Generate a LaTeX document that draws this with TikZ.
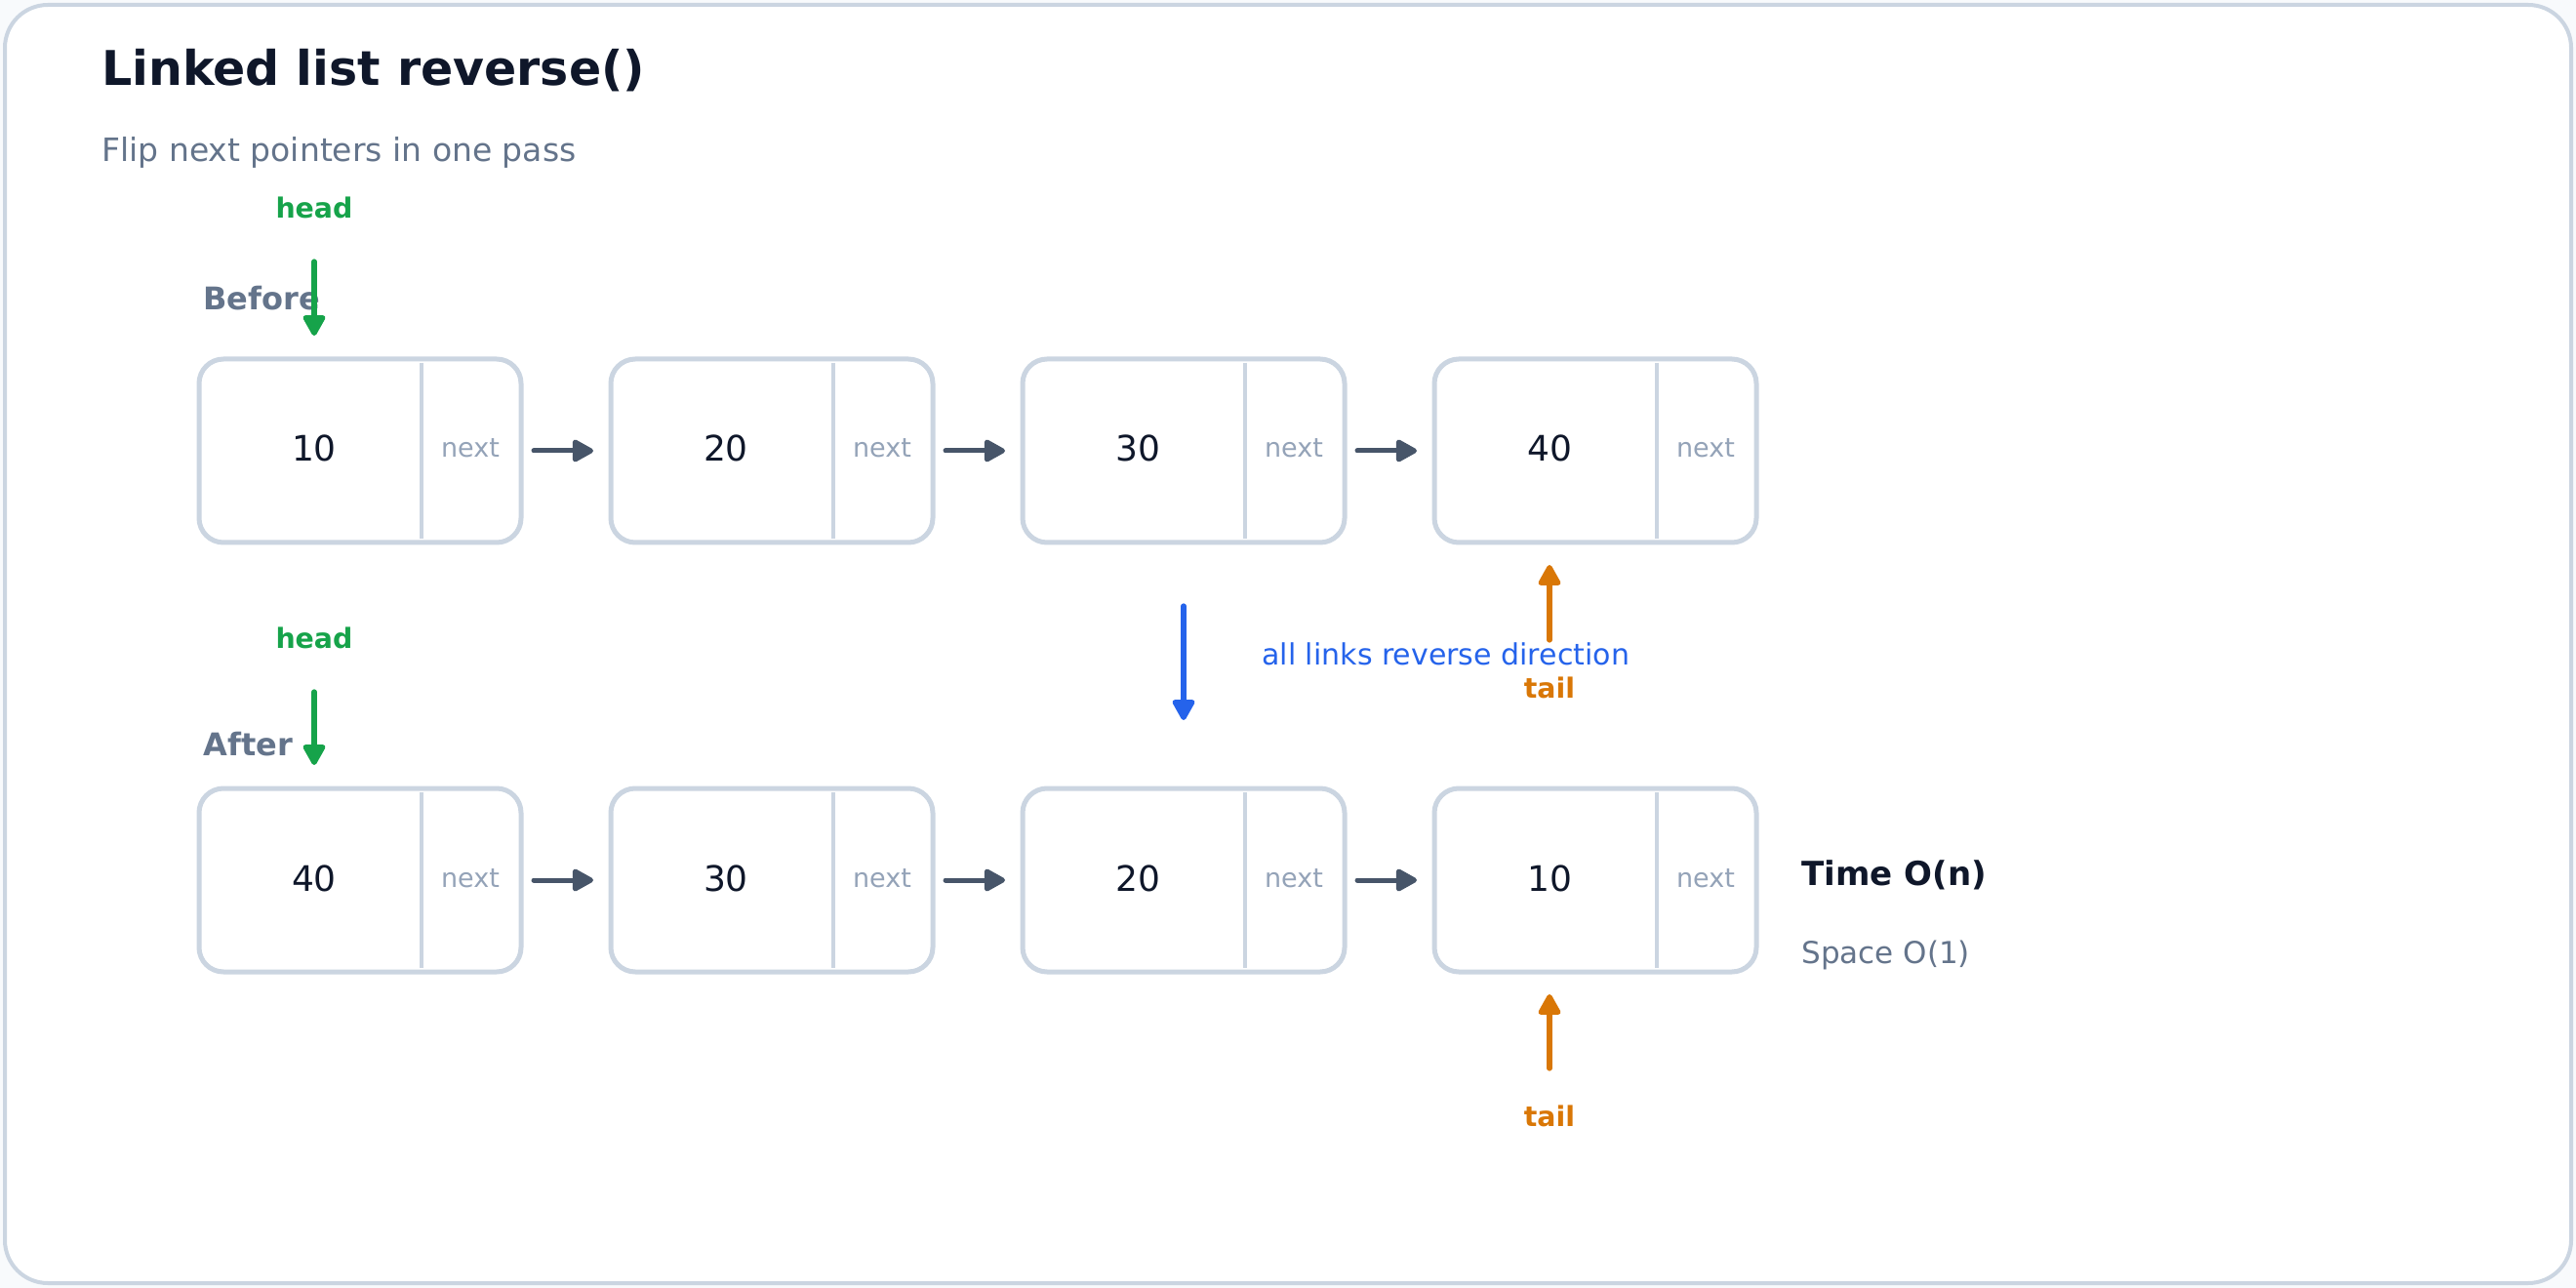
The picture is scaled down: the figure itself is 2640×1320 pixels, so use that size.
\documentclass[tikz,border=0pt]{standalone}
\usepackage{fontspec}
\setmainfont{DejaVu Sans}
\usetikzlibrary{arrows.meta}
\definecolor{ink}{HTML}{0F172A}
\definecolor{muted}{HTML}{64748B}
\definecolor{faint}{HTML}{94A3B8}
\definecolor{border}{HTML}{CBD5E1}
\definecolor{linkc}{HTML}{475569}
\definecolor{headc}{HTML}{16A34A}
\definecolor{tailc}{HTML}{D97706}
\definecolor{flipc}{HTML}{2563EB}
\definecolor{pagebg}{HTML}{F8FAFC}
\begin{document}
\begin{tikzpicture}[x=0.5pt,y=-0.5pt,
  lbox/.style={draw=border, line width=2.5pt, rounded corners=12.5pt, fill=white,
    minimum width=165pt, minimum height=94pt, inner sep=0pt, outer sep=0pt},
  divider/.style={draw=border, line width=1.6pt},
  val/.style={anchor=base, inner sep=0pt, text=ink, font=\fontsize{18pt}{20pt}\selectfont},
  nxt/.style={anchor=base, inner sep=0pt, text=faint, font=\fontsize{13.5pt}{15pt}\selectfont},
  link/.style={draw=linkc, line width=2.5pt, line cap=round, -{Triangle[length=12pt,width=12.5pt,round]}},
  ptr/.style={line width=2.6pt, line cap=round, -{Triangle[length=12pt,width=12.5pt,round]}},
  ptrlbl/.style={anchor=base, inner sep=0pt, font=\bfseries\fontsize{14.2pt}{16pt}\selectfont},
  rowlbl/.style={anchor=base west, inner sep=0pt, text=muted, font=\bfseries\fontsize{16pt}{18pt}\selectfont},
  plain/.style={anchor=base west, inner sep=0pt}
]
\useasboundingbox (0,0) rectangle (2640,1320);
\fill[pagebg] (0,0) rectangle (2640,1320);
\draw[draw=border, line width=2pt, fill=white, rounded corners=22pt] (5,5) rectangle (2635,1315);

% title
\node[plain, text=ink, font=\bfseries\fontsize{24.5pt}{28pt}\selectfont] (title) at (104,88) {Linked list reverse()};
\node[plain, text=muted, font=\fontsize{16.5pt}{19pt}\selectfont] (sub) at (104,166) {Flip next pointers in one pass};

% rows of nodes
\foreach \i/\v/\w in {1/10/40,2/20/30,3/30/20,4/40/10}{
  \pgfmathsetmacro\L{204+422*(\i-1)}
  \node[lbox] (a\i) at (\L+165,462) {};
  \draw[divider] (\L+228,372) -- (\L+228,552);
  \node[val] (av\i) at (\L+118,473) {\v};
  \node[nxt] (an\i) at (\L+278,469) {next};
  \node[lbox] (b\i) at (\L+165,902) {};
  \draw[divider] (\L+228,812) -- (\L+228,992);
  \node[val] (bv\i) at (\L+118,913) {\w};
  \node[nxt] (bn\i) at (\L+278,909) {next};
}
\foreach \i/\j in {1/2,2/3,3/4}{
  \draw[link] ([xshift=6.5pt]a\i.east) -- ([xshift=-9pt]a\j.west);
  \draw[link] ([xshift=6.5pt]b\i.east) -- ([xshift=-9pt]b\j.west);
}

% row labels
\node[rowlbl] (before) at (208,318) {Before};
\node[rowlbl] (after) at (208,774) {After};

% head pointers
\node[ptrlbl, text=headc] (h1) at (322,224) {head};
\draw[ptr, headc] ([yshift=-22pt]h1.base) -- ([xshift=59pt,yshift=12pt]a1.north west);
\node[ptrlbl, text=headc] (h2) at (322,665) {head};
\draw[ptr, headc] ([yshift=-22pt]h2.base) -- ([xshift=59pt,yshift=12pt]b1.north west);

% tail pointers
\node[ptrlbl, text=tailc] (t1) at (1588,715) {tail};
\draw[ptr, tailc] ([yshift=29.5pt]t1.base) -- ([xshift=59pt,yshift=-11.5pt]a4.south west);
\node[ptrlbl, text=tailc] (t2) at (1588,1154) {tail};
\draw[ptr, tailc] ([yshift=29.5pt]t2.base) -- ([xshift=59pt,yshift=-11.5pt]b4.south west);

% reverse arrow
\draw[ptr, flipc] ([yshift=-32.5pt]a3.south) -- ([yshift=35pt]b3.north);
\node[plain, text=flipc, font=\fontsize{15pt}{18pt}\selectfont] (flip) at (1293,682) {all links reverse direction};

% complexity
\node[plain, text=ink, font=\bfseries\fontsize{17pt}{20pt}\selectfont] (time) at (1846,907) {Time O(n)};
\node[plain, text=muted, font=\fontsize{15.5pt}{18pt}\selectfont] (space) at (1846,987) {Space O(1)};
\end{tikzpicture}
\end{document}
